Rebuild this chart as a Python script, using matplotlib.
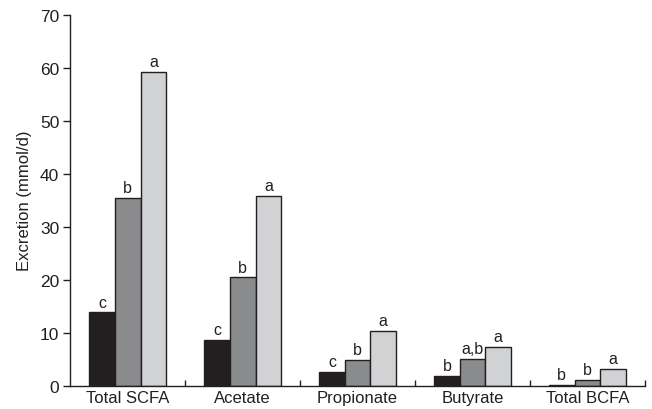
import numpy as np
import matplotlib.pyplot as plt

plt.rcParams['font.family'] = ['Liberation Sans', 'DejaVu Sans']

categories = ['Total SCFA', 'Acetate', 'Propionate', 'Butyrate', 'Total BCFA']
diet_1 = [13.8, 8.7, 2.6, 1.9, 0.2]
diet_2 = [35.4, 20.4, 4.9, 5.1, 1.1]
diet_3 = [59.2, 35.8, 10.3, 7.3, 3.2]
letters_1 = ['c', 'c', 'c', 'b', 'b']
letters_2 = ['b', 'b', 'b', 'a,b', 'b']
letters_3 = ['a', 'a', 'a', 'a', 'a']

colors = ['#231f20', '#8a8b8c', '#d1d2d4']
width = 0.223

fig = plt.figure(figsize=(6.52, 4.10), dpi=100)
ax = fig.add_axes([0.108, 0.057, 0.881, 0.905])

x = np.arange(len(categories))
series = [(diet_1, letters_1), (diet_2, letters_2), (diet_3, letters_3)]
for i, (vals, labs) in enumerate(series):
    pos = x + (i - 1) * width
    ax.bar(pos, vals, width, color=colors[i], edgecolor='#231f20', linewidth=1.0, zorder=2)
    for px, v, t in zip(pos, vals, labs):
        ax.text(px, v + 0.5, t, ha='center', va='bottom', fontsize=11.5, color='#231f20')

ax.set_xlim(-0.5, len(categories) - 0.5)
ax.set_ylim(0, 70)
ax.set_yticks(np.arange(0, 71, 10))
ax.tick_params(axis='y', direction='out', length=5, width=1, labelsize=12.5, pad=3, colors='#231f20')

# group separators as short upward ticks, names at the group centres
ax.set_xticks(x + 0.5)
ax.set_xticklabels([])
ax.tick_params(axis='x', which='major', direction='in', length=4, width=1, colors='#231f20')
ax.set_xticks(x, minor=True)
ax.set_xticklabels(categories, minor=True, fontsize=12, color='#231f20')
ax.tick_params(axis='x', which='minor', length=0, pad=3)

ax.set_ylabel('Excretion (mmol/d)', fontsize=12, color='#231f20', labelpad=6)

for s in ['top', 'right']:
    ax.spines[s].set_visible(False)
for s in ['left', 'bottom']:
    ax.spines[s].set_color('#231f20')
    ax.spines[s].set_linewidth(1.0)

fig.savefig('out.png', dpi=100)
